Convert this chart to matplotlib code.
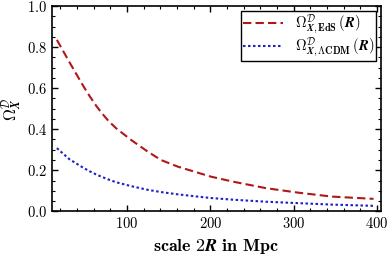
import matplotlib
matplotlib.use('Agg')
import matplotlib.pyplot as plt
from matplotlib.ticker import MultipleLocator

# ── 데이터 ────────────────────────────────────────────────────────────
scale_2R = [16, 31, 47, 55, 63, 70, 78, 87, 105, 125, 141, 161, 187, 201, 227, 267, 306, 346, 396]
omega_eds = [0.835, 0.727, 0.615, 0.563, 0.515, 0.478, 0.44, 0.405, 0.348, 0.291, 0.25,
             0.218, 0.186, 0.169, 0.145, 0.113, 0.091, 0.072, 0.061]
omega_lcdm = [0.308, 0.254, 0.214, 0.196, 0.180, 0.168, 0.155, 0.142, 0.123, 0.105, 0.094,
              0.083, 0.071, 0.065, 0.057, 0.047, 0.040, 0.033, 0.027]

plt.rcParams['mathtext.fontset'] = 'cm'
plt.rcParams['font.family'] = 'cmr10'
plt.rcParams['axes.formatter.use_mathtext'] = True

fig = plt.figure(figsize=(3.9, 2.6), dpi=100)
ax = fig.add_axes([0.133, 0.187, 0.844, 0.79])

ax.plot(scale_2R, omega_eds, color='#b01818', lw=1.5, dashes=(4, 2),
        label=r'$\Omega^{\mathcal{D}}_{\mathbfit{X},\mathbf{EdS}}\,(\mathbfit{R})$')
ax.plot(scale_2R, omega_lcdm, color='#2020c8', lw=1.5, dashes=(1.2, 1.2),
        label=r'$\Omega^{\mathcal{D}}_{\mathbfit{X},\mathbf{\Lambda CDM}}\,(\mathbfit{R})$')

ax.set_xlim(10, 405)
ax.set_ylim(0, 1.0)
ax.xaxis.set_major_locator(MultipleLocator(100))
ax.xaxis.set_minor_locator(MultipleLocator(20))
ax.yaxis.set_major_locator(MultipleLocator(0.2))
ax.yaxis.set_minor_locator(MultipleLocator(0.05))
ax.tick_params(which='both', direction='in', top=True, right=True, labelsize=10.5)
ax.tick_params(which='major', length=4, width=1)
ax.tick_params(which='minor', length=2, width=0.8)
for s in ax.spines.values():
    s.set_linewidth(1.2)

ax.set_xlabel(r'$\mathbf{scale\ 2}\mathbfit{R}\mathbf{\ in\ Mpc}$', fontsize=13)
ax.set_ylabel(r'$\mathbf{\Omega}^{\mathcal{D}}_{\mathbfit{X}}$', fontsize=12)
ax.yaxis.set_label_coords(-0.085, 0.5)

leg = ax.legend(loc='upper right', fontsize=10.5, fancybox=False, framealpha=1,
                edgecolor='black', handlelength=2.8, borderaxespad=0.35,
                handletextpad=0.8, labelspacing=0.0, borderpad=0.1)
leg.get_frame().set_linewidth(1.0)

fig.savefig('out.png', dpi=100)
